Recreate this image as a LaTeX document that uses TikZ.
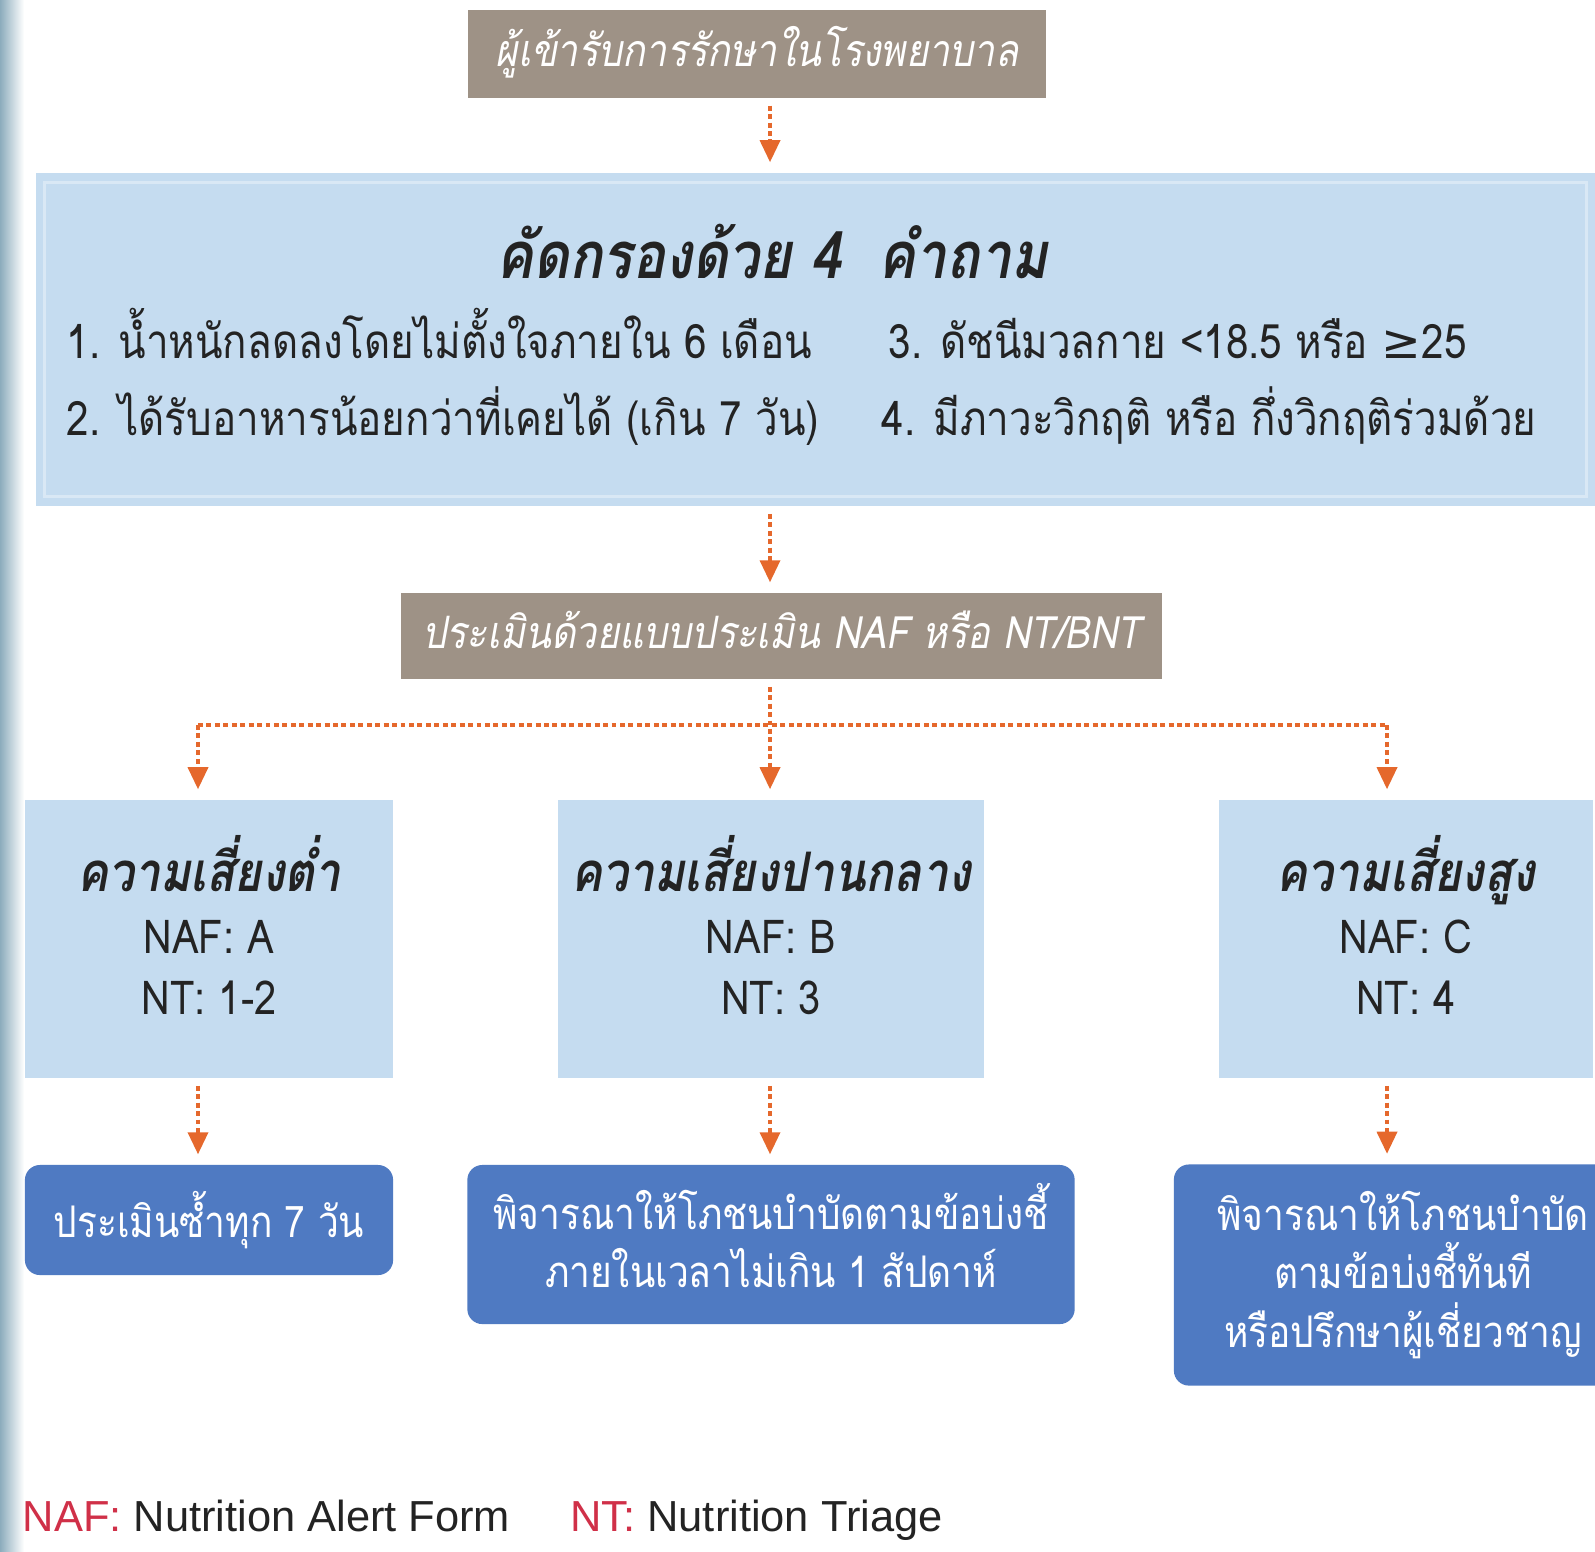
\documentclass[tikz,border=0pt]{standalone}
\usepackage{fontspec}
\setmainfont[Script=Thai,FakeStretch=0.85]{Loma}
\newfontfamily\symfont{DejaVu Sans}
\newfontfamily\legendfont{Liberation Sans}
\usetikzlibrary{arrows.meta,positioning}
\definecolor{boxbrown}{RGB}{158,146,134}
\definecolor{paleblue}{RGB}{197,220,240}
\definecolor{deepblue}{RGB}{79,122,194}
\definecolor{flowcolor}{RGB}{229,104,44}
\definecolor{legendred}{RGB}{208,48,72}
\definecolor{ink}{RGB}{35,35,35}
\begin{document}
\begin{tikzpicture}[x=0.01cm,y=-0.01cm,
  graybox/.style={fill=boxbrown,text=white,inner sep=0pt,
    font=\itshape\fontsize{12.7}{16}\selectfont,text height=0.36cm,text depth=0.12cm},
  riskbox/.style={fill=paleblue,text=ink,inner sep=0pt,align=center,text depth=0.28cm,
    font=\fontsize{13.3}{17.4}\selectfont},
  planbox/.style={fill=deepblue,text=white,inner sep=0pt,align=center,
    rounded corners=0.15cm,font=\fontsize{12.4}{16.5}\selectfont},
  item/.style={anchor=base west,inner sep=0pt,text=ink,font=\fontsize{13.5}{16}\selectfont},
  dotline/.style={flowcolor,line width=1pt,dash pattern=on 1.4pt off 1pt},
  flow/.style={dotline,-{Triangle[width=0.2cm,length=0.22cm]},
    shorten <=0.07cm,shorten >=0.1cm}]
\useasboundingbox (0,0) rectangle (1595,1551);
\fill[white] (0,0) rectangle (1595,1551);
\shade[left color={rgb,255:red,140;green,172;blue,188},right color=white] (0,0) rectangle (24,1551);

% top part
\node (admit) [graybox,minimum width=5.78cm,minimum height=0.88cm] at (757,54) {ผู้เข้ารับการรักษาในโรงพยาบาล};
\node (screen) [fill=paleblue,minimum width=15.59cm,minimum height=3.33cm] at (815.5,339.5) {};
\draw[white,opacity=0.35,line width=0.8pt] ([xshift=0.1cm,yshift=-0.1cm]screen.north west) rectangle ([xshift=-0.1cm,yshift=0.1cm]screen.south east);
\node (screentitle) [text=ink,font=\bfseries\itshape\fontsize{18.5}{20}\selectfont] at (772,251) {คัดกรองด้วย 4~~คำถาม};
\node (q1) [item] at (66,358) {1. น้ำหนักลดลงโดยไม่ตั้งใจภายใน 6 เดือน};
\node (q2) [item] at (66,435) {2. ได้รับอาหารน้อยกว่าที่เคยได้ (เกิน 7 วัน)};
\node (q3) [item] at (888,358) {3. ดัชนีมวลกาย <18.5 หรือ {\symfont ≥}25};
\node (q4) [item] at (881,435) {4. มีภาวะวิกฤติ หรือ กึ่งวิกฤติร่วมด้วย};
\node (assess) [graybox,minimum width=7.61cm,minimum height=0.86cm] at (781.5,636) {ประเมินด้วยแบบประเมิน NAF หรือ NT/BNT};

% risk levels
\node (low) [riskbox,minimum width=3.68cm,minimum height=2.78cm] at (209,939)
  {{\bfseries\itshape\fontsize{15.5}{17.4}\selectfont ความเสี่ยงต่ำ}\\NAF: A\\NT: 1-2};
\node (mid) [riskbox,minimum width=4.26cm,minimum height=2.78cm] at (771,939)
  {{\bfseries\itshape\fontsize{15.5}{17.4}\selectfont ความเสี่ยงปานกลาง}\\NAF: B\\NT: 3};
\node (high) [riskbox,minimum width=3.74cm,minimum height=2.78cm] at (1406,939)
  {{\bfseries\itshape\fontsize{15.5}{17.4}\selectfont ความเสี่ยงสูง}\\NAF: C\\NT: 4};

% what to do
\node (lowplan) [planbox,minimum width=3.68cm,minimum height=1.10cm] at (209,1220) {ประเมินซ้ำทุก 7 วัน};
\node (midplan) [planbox,text depth=0.18cm,minimum width=6.07cm,minimum height=1.59cm] at (771,1244.5)
  {พิจารณาให้โภชนบำบัดตามข้อบ่งชี้\\ภายในเวลาไม่เกิน 1 สัปดาห์};
\node (highplan) [planbox,minimum width=4.58cm,minimum height=2.21cm] at (1403,1275)
  {พิจารณาให้โภชนบำบัด\\ตามข้อบ่งชี้ทันที\\หรือปรึกษาผู้เชี่ยวชาญ};

\node (legend) [anchor=base west,inner sep=0pt,text=ink,font=\legendfont\fontsize{12.35}{15}\selectfont] at (22,1531)
  {\textcolor{legendred}{NAF:} Nutrition Alert Form\hspace{0.6cm}\textcolor{legendred}{NT:} Nutrition Triage};

% connectors
\coordinate (split) at (770,725);
\coordinate (lowtop) at (198,725);
\coordinate (hightop) at (1387,725);
\draw[flow] ([xshift=0.13cm]admit.south) -- ([xshift=0.13cm]admit.south |- screen.north);
\draw[flow] (split |- screen.south) -- (split |- assess.north);
\draw[dotline] (lowtop) -- (hightop);
\draw[flow] (split |- assess.south) -- (split |- mid.north);
\draw[flow,shorten <=0pt] (lowtop) -- (lowtop |- low.north);
\draw[flow,shorten <=0pt] (hightop) -- (hightop |- high.north);
\draw[flow] (lowtop |- low.south) -- (lowtop |- lowplan.north);
\draw[flow] (split |- mid.south) -- (split |- midplan.north);
\draw[flow] (hightop |- high.south) -- (hightop |- highplan.north);
\end{tikzpicture}
\end{document}
